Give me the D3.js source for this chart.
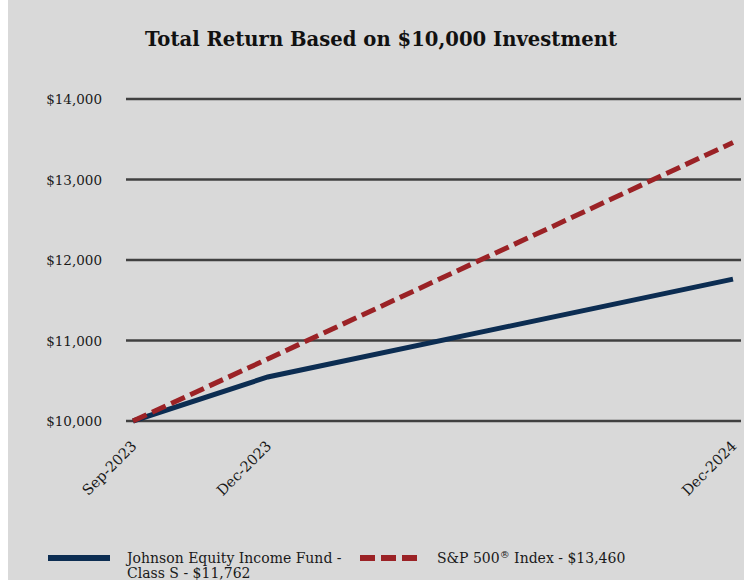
<!DOCTYPE html>
<html><head><meta charset="utf-8">
<script src="https://cdn.jsdelivr.net/npm/d3@7"></script>
<style>html,body{margin:0;padding:0;background:#fff;}svg{display:block;}</style>
</head><body>
<script>
const dates = ["2023-09-16", "2023-12-31", "2024-12-31"];
const tickLabels = ["Sep-2023", "Dec-2023", "Dec-2024"];
const fundValues = [10000, 10547, 11762];
const spValues = [10000, 10770, 13460];
const yTicks = [10000, 11000, 12000, 13000, 14000];
const fundName = ["Johnson Equity Income Fund -", "Class S - $11,762"];
const spName = ["S&P 500", "®", " Index - $13,460"];
const title = "Total Return Based on $10,000 Investment";

const W = 744, H = 580;
const serif = "'DejaVu Serif', Georgia, serif";
const parse = d3.timeParse("%Y-%m-%d");
const dts = dates.map(parse);

const svg = d3.select("body").append("svg").attr("width", W).attr("height", H);
svg.append("rect").attr("x", 8).attr("y", 0).attr("width", W - 8).attr("height", H).attr("fill", "#d9d9d9");

const x = d3.scaleTime().domain([dts[0], dts[2]]).range([133, 733]);
const y = d3.scaleLinear().domain([10000, 14000]).range([421, 99]);

// title
const t = svg.append("text").attr("x", 381).attr("y", 46).attr("text-anchor", "middle")
  .attr("font-family", serif).attr("font-weight", "bold").attr("font-size", 18).attr("fill", "#111").text(title);
const tw = t.node().getComputedTextLength();
t.attr("font-size", 18 * 472 / tw);

// y axis labels + gridlines
const yAxis = d3.axisLeft(y).tickValues(yTicks).tickSize(0).tickPadding(0)
  .tickFormat(d => "$" + d3.format(",")(d));
const ga = svg.append("g").attr("transform", "translate(102,0)").call(yAxis);
ga.select(".domain").remove();
ga.selectAll("text").attr("font-family", serif).attr("font-size", 13.5).attr("fill", "#1a1a1a").attr("dy", "0.35em");
svg.append("g").selectAll("line").data(yTicks).join("line")
  .attr("x1", 126).attr("x2", 741).attr("y1", d => y(d)).attr("y2", d => y(d))
  .attr("stroke", "#404040").attr("stroke-width", 2.3);

// x axis labels
const xAxis = d3.axisBottom(x).tickValues(dts).tickSize(0).tickPadding(0)
  .tickFormat((d, i) => tickLabels[i]);
const gx = svg.append("g").attr("transform", "translate(0,421)").call(xAxis);
gx.select(".domain").remove();
gx.selectAll("text").attr("font-family", serif).attr("font-size", 14.5).attr("fill", "#1a1a1a")
  .attr("text-anchor", "end").attr("dy", null).attr("y", 0)
  .attr("transform", "translate(4,26) rotate(-45)");

// lines
const line = d3.line().x((d, i) => x(dts[i])).y(d => y(d));
svg.append("path").datum(fundValues).attr("d", line).attr("fill", "none")
  .attr("stroke", "#0c2d52").attr("stroke-width", 5);
svg.append("path").datum(spValues).attr("d", line).attr("fill", "none")
  .attr("stroke", "#9b2226").attr("stroke-width", 5).attr("stroke-dasharray", "15,6");

// legend
const lg = svg.append("g");
lg.append("line").attr("x1", 48).attr("x2", 110).attr("y1", 558).attr("y2", 558)
  .attr("stroke", "#0c2d52").attr("stroke-width", 6);
const lt = lg.append("text").attr("font-family", serif).attr("font-size", 14).attr("fill", "#1a1a1a");
lt.append("tspan").attr("x", 127).attr("y", 563).text(fundName[0]);
lt.append("tspan").attr("x", 127).attr("y", 578).text(fundName[1]);
lg.append("line").attr("x1", 360).attr("x2", 420).attr("y1", 558).attr("y2", 558)
  .attr("stroke", "#9b2226").attr("stroke-width", 6).attr("stroke-dasharray", "15,6");
const st = lg.append("text").attr("x", 437).attr("y", 563).attr("font-family", serif).attr("font-size", 14)
  .attr("fill", "#1a1a1a");
st.append("tspan").text(spName[0]);
st.append("tspan").attr("font-size", 10).attr("dy", -5).text(spName[1]);
st.append("tspan").attr("dy", 5).text(spName[2]);
</script>
</body></html>
